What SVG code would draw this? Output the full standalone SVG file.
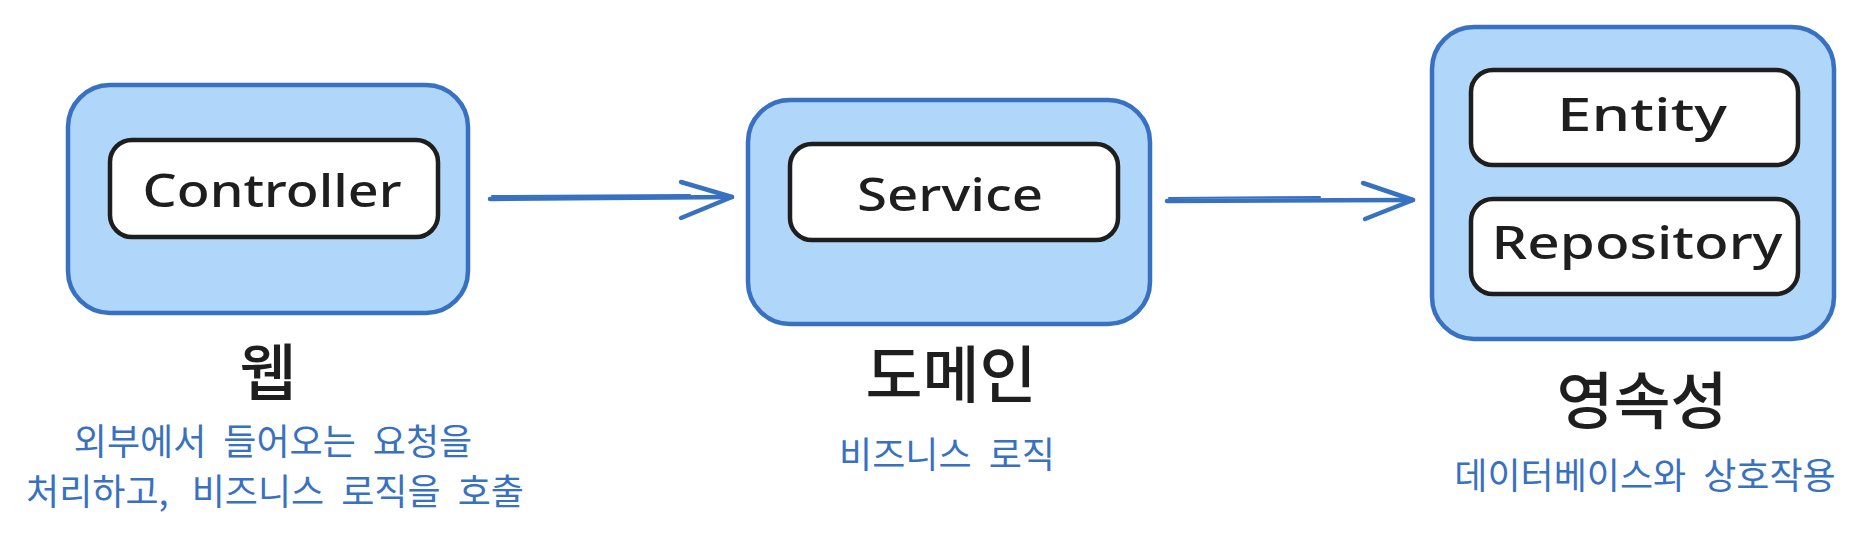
<svg xmlns="http://www.w3.org/2000/svg" width="1868" height="542" viewBox="0 0 1868 542">
  <style>
    .outer { fill: #b0d6fa; stroke: #3871c1; stroke-width: 4.5; }
    .inner { fill: #ffffff; stroke: #1e1e1e; stroke-width: 4.5; }
    .code { font-family: "Noto Sans", "DejaVu Sans", sans-serif; font-size: 46px; font-weight: 500; fill: #1e1e1e; text-anchor: middle; }
    .title { font-family: "Noto Sans CJK KR", "Noto Sans", sans-serif; font-size: 62px; font-weight: 500; fill: #1e1e1e; text-anchor: middle; }
    .desc { font-family: "Noto Sans CJK KR", "Noto Sans", sans-serif; font-size: 36px; font-weight: 400; fill: #3871c1; text-anchor: middle; word-spacing: 9px; }
    .arrow { fill: none; stroke: #3871c1; stroke-width: 4.5; stroke-linecap: round; stroke-linejoin: round; }
    .arrow2 { fill: none; stroke: #3871c1; stroke-width: 2; stroke-linecap: round; }
  </style>
  <rect width="1868" height="542" fill="#ffffff"/>

  <g id="web">
    <rect class="outer" x="68" y="85" width="400" height="228" rx="42"/>
    <g id="controller">
      <rect class="inner" x="110" y="140" width="328" height="97" rx="22"/>
      <text class="code" x="272" y="207" textLength="259" lengthAdjust="spacingAndGlyphs">Controller</text>
    </g>
    <text class="title" x="268" y="396">웹</text>
    <text class="desc" x="273" y="455">외부에서 들어오는 요청을</text>
    <text class="desc" x="275" y="505">처리하고,<tspan dx="6"> 비즈니스 로직을 호출</tspan></text>
  </g>

  <g id="domain">
    <rect class="outer" x="748" y="100" width="402" height="224" rx="42"/>
    <g id="service">
      <rect class="inner" x="790" y="144" width="328" height="96" rx="22"/>
      <text class="code" x="950" y="211" textLength="186" lengthAdjust="spacingAndGlyphs">Service</text>
    </g>
    <text class="title" x="951" y="398" font-weight="400">도메인</text>
    <text class="desc" x="947" y="468">비즈니스 로직</text>
  </g>

  <g id="persistence">
    <rect class="outer" x="1432" y="27" width="402" height="312" rx="42"/>
    <g id="entity">
      <rect class="inner" x="1471" y="70" width="327" height="95" rx="22"/>
      <text class="code" x="1642" y="131" textLength="170" lengthAdjust="spacingAndGlyphs">Entity</text>
    </g>
    <g id="repository">
      <rect class="inner" x="1471" y="199" width="327" height="95" rx="22"/>
      <text class="code" x="1637" y="259" textLength="291" lengthAdjust="spacingAndGlyphs">Repository</text>
    </g>
    <text class="title" x="1642" y="424">영속성</text>
    <text class="desc" x="1645" y="489">데이터베이스와 상호작용</text>
  </g>

  <g id="connectors">
    <g id="web-to-domain">
      <path class="arrow" d="M490 199 L732 197"/>
      <path class="arrow2" d="M492 196 L690 195"/>
      <path class="arrow" d="M681 182 L732 197 L681 218"/>
    </g>
    <g id="domain-to-persistence">
      <path class="arrow" d="M1167 201 L1413 200"/>
      <path class="arrow2" d="M1169 198 L1320 197"/>
      <path class="arrow" d="M1363 183 L1413 200 L1365 219"/>
    </g>
  </g>
</svg>
